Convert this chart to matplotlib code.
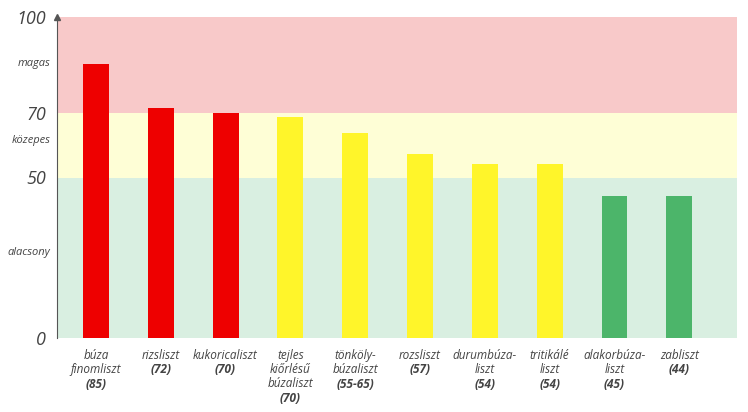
import matplotlib
matplotlib.use("Agg")
import matplotlib.pyplot as plt

names = ["búza\nfinomliszt", "rizsliszt", "kukoricaliszt", "tejles\nkiőrlésű\nbúzaliszt",
         "tönköly-\nbúzaliszt", "rozsliszt", "durumbúza-\nliszt", "tritikálé\nliszt",
         "alakorbúza-\nliszt", "zabliszt"]
gi_labels = ["(85)", "(72)", "(70)", "(70)", "(55-65)", "(57)", "(54)", "(54)", "(45)", "(44)"]
values = [85.5, 71.6, 70, 68.8, 64, 57.3, 54.2, 54.2, 44.3, 44.3]
colors = ["#ee0000"] * 3 + ["#fff52a"] * 5 + ["#4cb56a"] * 2
y_ticks = [0, 50, 70, 100]
zone_labels = [("magas", 85.5), ("közepes", 61.5), ("alacsony", 26.5)]

plt.rcParams['font.family'] = ['Open Sans', 'DejaVu Sans']
fig = plt.figure(figsize=(7.48, 4.12), dpi=100)
ax = fig.add_axes([57/748, 74/412, 680/748, 321/412])
ax.set_xlim(-0.6, 9.89)
ax.set_ylim(0, 100)
ax.axhspan(70, 100, color="#f8c9c9", lw=0)
ax.axhspan(50, 70, color="#fefed6", lw=0)
ax.axhspan(0, 50, color="#d9efe1", lw=0)
x = list(range(len(names)))
ax.bar(x, values, width=0.4, color=colors, zorder=2)
for s in ["top", "right", "bottom"]:
    ax.spines[s].set_visible(False)
ax.spines["left"].set_color("#555555")
ax.plot(0, 1, "^", transform=ax.transAxes, color="#555555", ms=4, clip_on=False)
ax.set_xticks([])
ax.set_yticks(y_ticks)
ax.set_yticklabels([str(t) for t in y_ticks], fontsize=13, style="italic", color="#444444")
ax.tick_params(axis="y", length=0, pad=8)
for lab, yv in zone_labels:
    ax.text(-0.01, yv, lab, transform=ax.get_yaxis_transform(), ha="right", va="center",
            fontsize=8, style="italic", color="#444444")
for xi, n, g in zip(x, names, gi_labels):
    nl = n.count("\n") + 1
    ax.annotate(n, (xi, 0), xytext=(0, -8), textcoords="offset points", ha="center", va="top",
                fontsize=8.5, style="italic", color="#444444", linespacing=1.1, annotation_clip=False)
    ax.annotate(g, (xi, 0), xytext=(0, -8 - 10.3 * nl), textcoords="offset points", ha="center",
                va="top", fontsize=8.5, style="italic", weight="bold", color="#444444",
                annotation_clip=False)
fig.savefig("out.png", dpi=100)
